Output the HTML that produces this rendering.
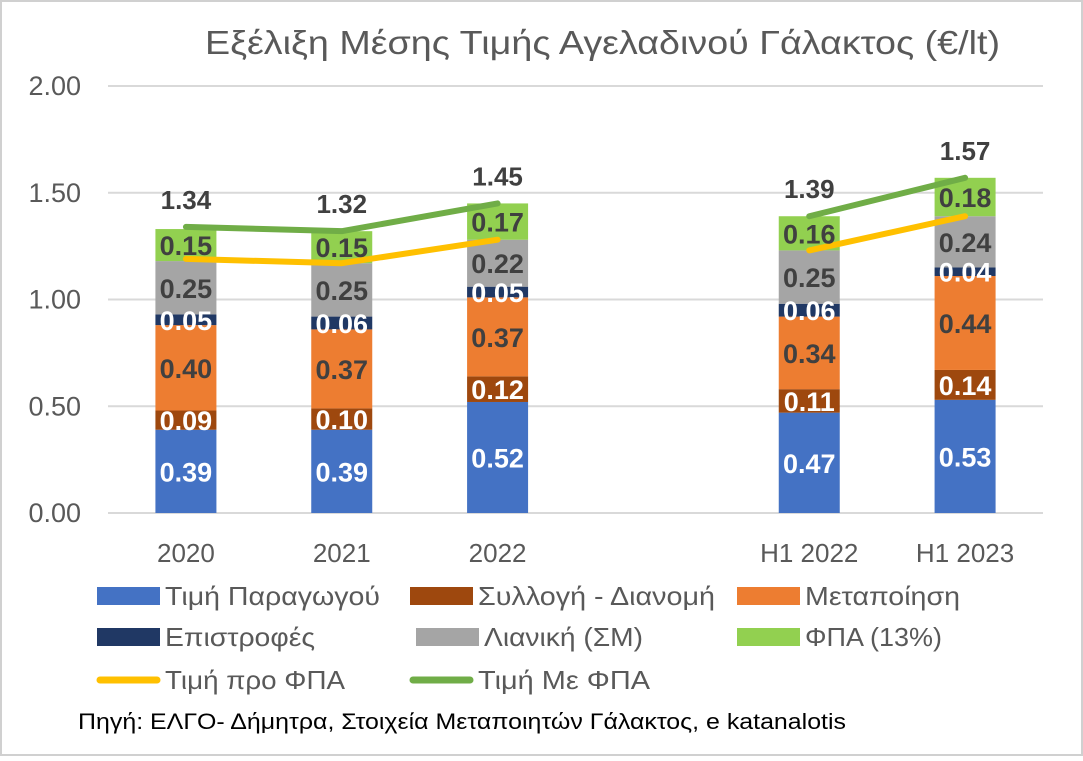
<!DOCTYPE html>
<html><head><meta charset="utf-8">
<style>
html,body{margin:0;padding:0;background:#fff;}
body{width:1083px;height:756px;overflow:hidden;font-family:"Liberation Sans","DejaVu Sans",sans-serif;}
svg text{font-family:"Liberation Sans","DejaVu Sans",sans-serif;}
</style></head>
<body>
<svg id="chart" width="1083" height="756" viewBox="0 0 1083 756" xmlns="http://www.w3.org/2000/svg">
<rect x="1" y="1" width="1081" height="754" fill="#fff" stroke="#d0d0d0" stroke-width="2"/>
<text x="205" y="54" font-size="33" fill="#595959" textLength="795" lengthAdjust="spacingAndGlyphs">Εξέλιξη Μέσης Τιμής Αγελαδινού Γάλακτος (€/lt)</text>
<g id="grid"></g><g id="bars"></g><g id="lines"></g><g id="labels"></g><g id="legend"></g>
<text x="78" y="729" font-size="22" fill="#000" textLength="768" lengthAdjust="spacingAndGlyphs">Πηγή: ΕΛΓΟ- Δήμητρα, Στοιχεία Μεταποιητών Γάλακτος, e katanalotis</text>
</svg>
<script>
const categories=["2020","2021","2022","","H1 2022","H1 2023"];
const seriesNames=["Τιμή Παραγωγού","Συλλογή - Διανομή","Μεταποίηση","Επιστροφές","Λιανική (ΣΜ)","ΦΠΑ (13%)"];
const producer=[0.39,0.39,0.52,null,0.47,0.53];
const collection=[0.09,0.10,0.12,null,0.11,0.14];
const processing=[0.40,0.37,0.37,null,0.34,0.44];
const returns=[0.05,0.06,0.05,null,0.06,0.04];
const retail=[0.25,0.25,0.22,null,0.25,0.24];
const vat=[0.15,0.15,0.17,null,0.16,0.18];
const priceBeforeVat=[1.19,1.17,1.28,null,1.23,1.39];
const priceWithVat=[1.34,1.32,1.45,null,1.39,1.57];
const yTicks=["0.00","0.50","1.00","1.50","2.00"];

const NS="http://www.w3.org/2000/svg";
const x0=108,x1=1043,y0=513,yScale=213.5;
const slot=(x1-x0)/categories.length;
const xc=i=>x0+slot*(i+0.5);
const yv=v=>y0-v*yScale;
const barW=61;
function mk(tag,attrs,parent){const e=document.createElementNS(NS,tag);for(const k in attrs)e.setAttribute(k,attrs[k]);parent.appendChild(e);return e;}
const grid=document.getElementById('grid');
yTicks.forEach(t=>{
  const v=parseFloat(t);
  const l=mk('line',{x1:x0,x2:x1,y1:yv(v),y2:yv(v),stroke:'#d9d9d9','stroke-width':2},grid);
  
  
  const tx=mk('text',{x:81,y:yv(v)+9,'text-anchor':'end','font-size':27,fill:'#595959'},grid);
  tx.textContent=t;
  
  
});
categories.forEach((c,i)=>{
  if(!c)return;
  const tx=mk('text',{x:xc(i),y:562,'text-anchor':'middle','font-size':26,fill:'#595959'},grid);
  tx.textContent=c;
  
  
});
const series=[producer,collection,processing,returns,retail,vat];
const colors=["#4472c4","#9e480e","#ed7d31","#203864","#a5a5a5","#92d050"];
const txtColors=["#fff","#fff","#404040","#fff","#404040","#404040"];
const keys=["producer","collection","processing","returns","retail","vat"];
const bars=document.getElementById('bars'),labels=document.getElementById('labels');
categories.forEach((c,i)=>{
  let acc=0;
  series.forEach((s,k)=>{
    const v=s[i];if(v==null)return;
    const r=mk('rect',{x:xc(i)-barW/2,y:yv(acc+v),width:barW,height:v*yScale,fill:colors[k]},bars);
    
    
    const t=mk('text',{x:xc(i),y:yv(acc+v/2)+10,'text-anchor':'middle','font-size':27,'font-weight':'bold',fill:txtColors[k]},labels);
    t.textContent=v.toFixed(2);
    
    
    acc+=v;
  });
});
const lines=document.getElementById('lines');
function drawLine(arr,color,name){
  let seg=[];const segs=[];
  arr.forEach((v,i)=>{if(v==null){if(seg.length)segs.push(seg);seg=[];}else seg.push([xc(i),yv(v)]);});
  if(seg.length)segs.push(seg);
  segs.forEach((sg,j)=>{
    const p=mk('polyline',{points:sg.map(q=>q.join(',')).join(' '),fill:'none',stroke:color,'stroke-width':6,'stroke-linecap':'round','stroke-linejoin':'round'},lines);
    
    
  });
}
drawLine(priceBeforeVat,"#ffc000","line-price-before-vat");
drawLine(priceWithVat,"#70ad47","line-price-with-vat");
priceWithVat.forEach((v,i)=>{
  if(v==null)return;
  const t=mk('text',{x:xc(i),y:yv(v)-18,'text-anchor':'middle','font-size':26,'font-weight':'bold',fill:'#404040'},labels);
  t.textContent=v.toFixed(2);
  
  
});
const legend=document.getElementById('legend');
const legItems=[
 {n:seriesNames[0],c:colors[0],x:97,y:596,t:'box',w:215},
 {n:seriesNames[1],c:colors[1],x:410,y:596,t:'box',w:237},
 {n:seriesNames[2],c:colors[2],x:737,y:596,t:'box',w:155},
 {n:seriesNames[3],c:colors[3],x:97,y:637,t:'box',w:150},
 {n:seriesNames[4],c:colors[4],x:416,y:637,t:'box',w:159},
 {n:seriesNames[5],c:colors[5],x:737,y:637,t:'box',w:137},
 {n:"Τιμή προ ΦΠΑ",c:"#ffc000",x:97,y:680,t:'line',w:180},
 {n:"Τιμή Με ΦΠΑ",c:"#70ad47",x:410,y:680,t:'line',w:172}];
legItems.forEach((it,i)=>{
  const g=mk('g',{},legend);
  
  
  if(it.t==='box')mk('rect',{x:it.x,y:it.y-9,width:63,height:18,fill:it.c},g);
  else mk('line',{x1:it.x+3,x2:it.x+60,y1:it.y,y2:it.y,stroke:it.c,'stroke-width':7,'stroke-linecap':'round'},g);
  const t=mk('text',{x:it.x+68,y:it.y+9,'font-size':26,fill:'#595959',textLength:it.w,lengthAdjust:'spacingAndGlyphs'},g);
  t.textContent=it.n;
});
</script>
</body></html>
